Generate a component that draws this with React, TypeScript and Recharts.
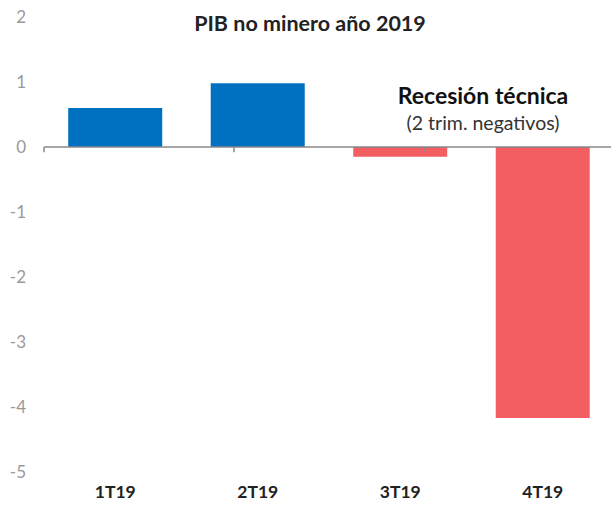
import { BarChart, Bar, XAxis, YAxis, Cell, ReferenceLine } from "recharts";

const quarters = ["1T19", "2T19", "3T19", "4T19"];
const growth = [0.6, 0.98, -0.15, -4.17];
const yTicks = [-5, -4, -3, -2, -1, 0, 1, 2];
const boundaries = [0, 1, 2, 3, 4];

const BLUE = "#0070c0";
const RED = "#f25e61";
const FONT = "Lato, 'Open Sans', sans-serif";

const data = quarters.map((q, i) => ({ q, v: growth[i] }));

export default function App() {
  return (
    <div style={{ position: "absolute", left: 0, top: 0, width: 611, height: 510, fontFamily: FONT, overflow: "hidden" }}>
      <BarChart
        width={611}
        height={510}
        data={data}
        barCategoryGap="17%"
        margin={{ top: 17, right: -3, bottom: 0, left: 0 }}
      >
        <YAxis
          domain={[-5, 2]}
          ticks={yTicks}
          width={44}
          axisLine={false}
          tickLine={false}
          tickMargin={12}
          tick={{ fill: "#999", fontSize: 17, fontFamily: FONT }}
        />
        <XAxis
          dataKey="q"
          height={38}
          axisLine={false}
          tickLine={false}
          tickMargin={8}
          tick={{ fill: "#222", fontSize: 17.5, fontWeight: 700, fontFamily: FONT }}
        />
        <XAxis xAxisId="n" type="number" domain={[0, 4]} hide />
        <ReferenceLine y={0} stroke="#888" strokeWidth={1.5} />
        {boundaries.map((b) => (
          <ReferenceLine
            key={b}
            xAxisId="n"
            segment={[
              { x: b, y: 0 },
              { x: b, y: -0.08 },
            ]}
            stroke="#888"
            strokeWidth={1.5}
          />
        ))}
        <Bar dataKey="v" isAnimationActive={false}>
          {data.map((d) => (
            <Cell key={d.q} fill={d.v >= 0 ? BLUE : RED} />
          ))}
        </Bar>
      </BarChart>
      <div
        style={{
          position: "absolute",
          top: 10,
          left: 0,
          width: 620,
          textAlign: "center",
          fontSize: 21.5,
          fontWeight: 700,
          color: "#222",
        }}
      >
        PIB no minero año 2019
      </div>
      <div
        style={{
          position: "absolute",
          top: 82,
          left: 363,
          width: 240,
          textAlign: "center",
          color: "#111",
          lineHeight: "27px",
        }}
      >
        <div style={{ fontSize: 23, fontWeight: 700 }}>Recesión técnica</div>
        <div style={{ fontSize: 19.5, color: "#333" }}>(2 trim. negativos)</div>
      </div>
    </div>
  );
}
